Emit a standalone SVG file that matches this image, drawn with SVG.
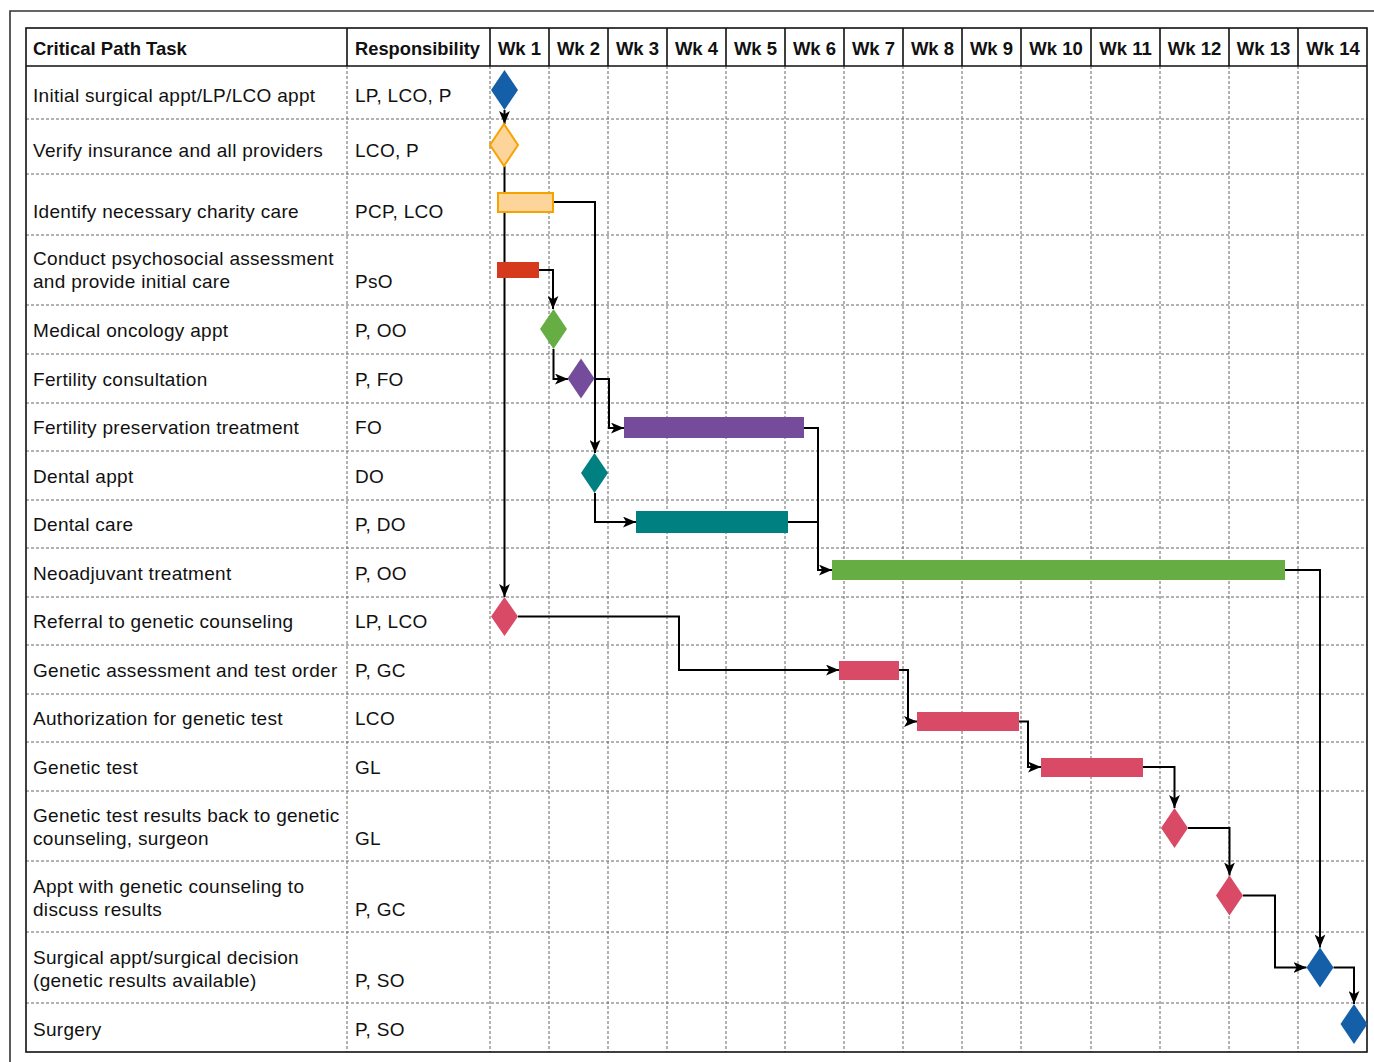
<svg xmlns="http://www.w3.org/2000/svg" width="1374" height="1062" viewBox="0 0 1374 1062">
<defs>
<style>
.t{font-family:"Liberation Sans",Arial,sans-serif;font-size:19px;letter-spacing:0.3px;fill:#111}
.h{font-family:"Liberation Sans",Arial,sans-serif;font-size:18.5px;font-weight:bold;fill:#111}
.hc{text-anchor:middle}
.g{stroke:#666;stroke-width:1;stroke-dasharray:3 2;fill:none}
.s{stroke:#111;stroke-width:1.6;fill:none}
.c{stroke:#000;stroke-width:2;fill:none;marker-end:url(#arr)}
.cn{stroke:#000;stroke-width:2;fill:none}
.blue{fill:#155fa8}
.orange{fill:#fdd49a;stroke:#f5a300;stroke-width:2}
.red{fill:#d63a1c}
.green{fill:#66ad44}
.purple{fill:#744c9b}
.teal{fill:#008080}
.pink{fill:#d84a66}
</style>
<marker id="arr" viewBox="0 0 12 10" refX="12" refY="5" markerWidth="13" markerHeight="11" markerUnits="userSpaceOnUse" orient="auto">
<path d="M0,0 L12,5 L0,10 L3,5 z" fill="#000"/>
</marker>
</defs>
<rect width="1374" height="1062" fill="#fff"/>
<path d="M10,1062 V11 H1374" stroke="#333" stroke-width="1.6" fill="none"/>

<g id="grid">
<path class="g" d="M26,119H1367M26,174H1367M26,235H1367M26,305H1367M26,354H1367M26,403H1367M26,451H1367M26,500H1367M26,548H1367M26,597H1367M26,645H1367M26,694H1367M26,742H1367M26,791H1367M26,861H1367M26,932H1367M26,1003H1367"/>
<path class="g" d="M347,66V1052M490,66V1052M549,66V1052M608,66V1052M667,66V1052M726,66V1052M785,66V1052M844,66V1052M903,66V1052M962,66V1052M1021,66V1052M1091,66V1052M1160,66V1052M1229,66V1052M1298,66V1052"/>
<path class="s" d="M26,66H1367M347,28V66M490,28V66M549,28V66M608,28V66M667,28V66M726,28V66M785,28V66M844,28V66M903,28V66M962,28V66M1021,28V66M1091,28V66M1160,28V66M1229,28V66M1298,28V66"/>
<rect class="s" x="26" y="28" width="1341" height="1024"/>
</g>

<g id="header">
<text class="h" x="33" y="55">Critical Path Task</text>
<text class="h" x="355" y="55" textLength="125" lengthAdjust="spacingAndGlyphs">Responsibility</text>
<text class="h hc" x="519.5" y="55">Wk 1</text>
<text class="h hc" x="578.5" y="55">Wk 2</text>
<text class="h hc" x="637.5" y="55">Wk 3</text>
<text class="h hc" x="696.5" y="55">Wk 4</text>
<text class="h hc" x="755.5" y="55">Wk 5</text>
<text class="h hc" x="814.5" y="55">Wk 6</text>
<text class="h hc" x="873.5" y="55">Wk 7</text>
<text class="h hc" x="932.5" y="55">Wk 8</text>
<text class="h hc" x="991.5" y="55">Wk 9</text>
<text class="h hc" x="1056" y="55">Wk 10</text>
<text class="h hc" x="1125.5" y="55">Wk 11</text>
<text class="h hc" x="1194.5" y="55">Wk 12</text>
<text class="h hc" x="1263.5" y="55">Wk 13</text>
<text class="h hc" x="1333" y="55">Wk 14</text>
</g>

<g id="tasks">
<text class="t" x="33" y="102">Initial surgical appt/LP/LCO appt</text>
<text class="t" x="355" y="102">LP, LCO, P</text>
<text class="t" x="33" y="157">Verify insurance and all providers</text>
<text class="t" x="355" y="157">LCO, P</text>
<text class="t" x="33" y="218">Identify necessary charity care</text>
<text class="t" x="355" y="218">PCP, LCO</text>
<text class="t" x="33" y="265">Conduct psychosocial assessment</text>
<text class="t" x="33" y="288">and provide initial care</text>
<text class="t" x="355" y="288">PsO</text>
<text class="t" x="33" y="337">Medical oncology appt</text>
<text class="t" x="355" y="337">P, OO</text>
<text class="t" x="33" y="386">Fertility consultation</text>
<text class="t" x="355" y="386">P, FO</text>
<text class="t" x="33" y="434">Fertility preservation treatment</text>
<text class="t" x="355" y="434">FO</text>
<text class="t" x="33" y="483">Dental appt</text>
<text class="t" x="355" y="483">DO</text>
<text class="t" x="33" y="531">Dental care</text>
<text class="t" x="355" y="531">P, DO</text>
<text class="t" x="33" y="580">Neoadjuvant treatment</text>
<text class="t" x="355" y="580">P, OO</text>
<text class="t" x="33" y="628">Referral to genetic counseling</text>
<text class="t" x="355" y="628">LP, LCO</text>
<text class="t" x="33" y="677">Genetic assessment and test order</text>
<text class="t" x="355" y="677">P, GC</text>
<text class="t" x="33" y="725">Authorization for genetic test</text>
<text class="t" x="355" y="725">LCO</text>
<text class="t" x="33" y="774">Genetic test</text>
<text class="t" x="355" y="774">GL</text>
<text class="t" x="33" y="822">Genetic test results back to genetic</text>
<text class="t" x="33" y="845">counseling, surgeon</text>
<text class="t" x="355" y="845">GL</text>
<text class="t" x="33" y="893">Appt with genetic counseling to</text>
<text class="t" x="33" y="916">discuss results</text>
<text class="t" x="355" y="916">P, GC</text>
<text class="t" x="33" y="964">Surgical appt/surgical decision</text>
<text class="t" x="33" y="987">(genetic results available)</text>
<text class="t" x="355" y="987">P, SO</text>
<text class="t" x="33" y="1036">Surgery</text>
<text class="t" x="355" y="1036">P, SO</text>
</g>

<g id="connectors">
<path class="c" d="M504.5,110V124"/>
<path class="c" d="M504.5,166V597"/>
<path class="c" d="M553,202H595V453"/>
<path class="c" d="M539,270H553V309"/>
<path class="c" d="M553.5,349V379H568"/>
<path class="c" d="M594,379H609V428H624"/>
<path class="c" d="M595,493V522H636"/>
<path class="c" d="M804,428H818V570H832"/>
<path class="cn" d="M788,522H818"/>
<path class="c" d="M518,616.5H679V670H839"/>
<path class="c" d="M899,670H908V721.5H917"/>
<path class="c" d="M1019,721.5H1028V767H1041"/>
<path class="c" d="M1143,767H1174.5V808"/>
<path class="c" d="M1188,828H1229.5V875.5"/>
<path class="c" d="M1243,895.5H1275V967.5H1306.5"/>
<path class="c" d="M1285,570H1320V947.5"/>
<path class="c" d="M1333.5,967.5H1354V1004"/>
</g>

<g id="m1"><path class="blue" d="M504.5,70L518,90L504.5,110L491,90Z"/></g>
<g id="m2"><path class="orange" d="M504,124L518,145L504,166L490,145Z"/></g>
<g id="b3"><rect class="orange" x="498" y="193" width="55" height="19"/></g>
<g id="b4"><rect class="red" x="497" y="262" width="42" height="16"/></g>
<g id="m5"><path class="green" d="M553.5,309L567,329L553.5,349L540,329Z"/></g>
<g id="m6"><path class="purple" d="M581,358.5L594.5,378.5L581,398.5L567.5,378.5Z"/></g>
<g id="b7"><rect class="purple" x="624" y="417" width="180" height="21"/></g>
<g id="m8"><path class="teal" d="M594.5,453L608,473L594.5,493L581,473Z"/></g>
<g id="b9"><rect class="teal" x="636" y="511" width="152" height="22"/></g>
<g id="b10"><rect class="green" x="832" y="560" width="453" height="20"/></g>
<g id="m11"><path class="pink" d="M504.5,597L518,616.5L504.5,636L491,616.5Z"/></g>
<g id="b12"><rect class="pink" x="839" y="661" width="60" height="19"/></g>
<g id="b13"><rect class="pink" x="917" y="712" width="102" height="19"/></g>
<g id="b14"><rect class="pink" x="1041" y="758" width="102" height="19"/></g>
<g id="m15"><path class="pink" d="M1174.5,808L1188,828L1174.5,848L1161,828Z"/></g>
<g id="m16"><path class="pink" d="M1229.5,875.5L1243,895.5L1229.5,915.5L1216,895.5Z"/></g>
<g id="m17"><path class="blue" d="M1320,947.5L1333.5,967.5L1320,987.5L1306.5,967.5Z"/></g>
<g id="m18"><path class="blue" d="M1354,1004L1367.5,1024L1354,1044L1340.5,1024Z"/></g>
</svg>
